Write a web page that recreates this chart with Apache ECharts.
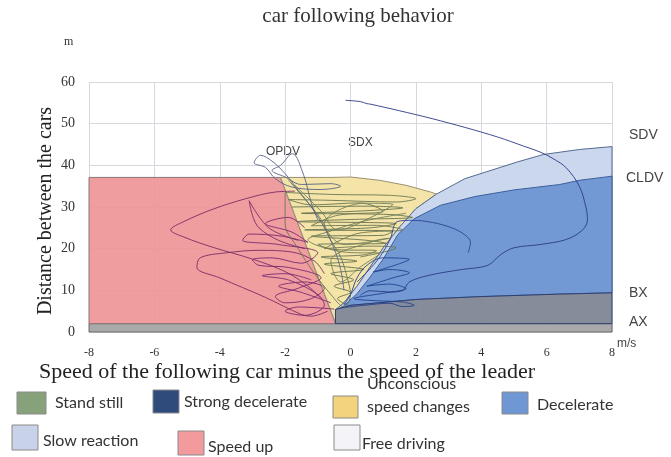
<!DOCTYPE html>
<html>
<head>
<meta charset="utf-8">
<script src="https://cdn.jsdelivr.net/npm/echarts@6/dist/echarts.min.js"></script>
<style>
  html, body { margin: 0; padding: 0; background: #fff; }
  #chart { width: 671px; height: 457px; }
</style>
</head>
<body>
<div id="chart"></div>
<script>
// axis ticks
const xTicks = [-8, -6, -4, -2, 0, 2, 4, 6, 8]
const yTicks = [0, 10, 20, 30, 40, 50, 60]

// zone boundaries (speed diff m/s, distance m)
const axBand = [[-8, 0], [8, 0], [8, 2], [-8, 2]]
const speedUpZone = [[-8, 2], [-0.46, 2], [-2.14, 37.1], [-8, 37.1]]
const yellowTop = [[-2.14, 37.1], [-0.6, 37.1], [0, 37.2], [0.9, 36.4], [1.7, 35.2], [2.45, 33.6], [2.63, 33.1]]
const sdvCurve = [[-0.46, 5.3], [-0.2, 7], [0.2, 11], [0.6, 15.6], [1.0, 20.2], [1.5, 25.2], [2.0, 29.6], [2.63, 33.1],
  [3.5, 36.8], [4.3, 38.8], [5.1, 40.8], [5.9, 42.6], [7, 43.8], [8, 44.5]]
const cldvCurve = [[-0.3, 5.6], [0.2, 9.2], [0.6, 13.2], [1.0, 17.5], [1.45, 23.4], [1.95, 27.2], [2.75, 30.4],
  [3.8, 32.5], [5, 34.1], [6.4, 35.4], [7, 36.4], [8, 37.4]]
const bxLine = [[-0.46, 5.4], [0, 6.4], [2, 7.8], [4, 8.5], [6.4, 9.1], [8, 9.4]]

// trajectories
const navyTrack = [[-0.15, 55.6], [0.3, 55.3], [0.5, 54.8], [0.6, 54.7], [1.5, 53.1], [2.5, 51.2], [3.5, 49.1],
  [4.5, 46.8], [5.3, 44.6], [5.8, 43.2], [6.2, 41.6], [6.6, 39.4], [7.0, 35], [7.2, 30], [7.25, 27], [7.1, 24.5],
  [6.6, 22.2], [5.8, 21], [5.0, 20.2], [4.6, 18.6], [4.2, 16], [3.4, 15], [2.4, 13.6], [1.8, 12], [1.6, 10],
  [1.2, 9.6], [0.6, 9.9], [0.3, 8.8]]
const blueLoopTrack = [[0.2, 12], [0.8, 17], [1.2, 22], [1.43, 26.5], [1.9, 26.8], [2.5, 26.3], [3.1, 25],
  [3.5, 23.3], [3.67, 21.5], [3.6, 19]]
const blueLowTrack = [[-0.3, 5.8], [0.4, 6.4], [1.2, 6.9], [1.6, 6.1], [1.95, 6.4], [1.6, 7.2], [0.8, 7.5],
  [0.1, 8], [1.0, 9.3], [1.7, 10.4], [1.2, 11.5], [0.5, 11], [1.3, 13], [1.8, 14.2], [1.2, 15], [0.7, 14.4],
  [1.5, 16.4], [1.8, 17.4], [1.0, 17.8], [0.5, 16], [0.2, 13], [0, 9], [-0.2, 6.5]]
const slateTrack = [[-1.0, 26.9], [-1.2, 31], [-1.43, 37.6], [-1.78, 42.8], [-2.14, 40], [-2.4, 38.8], [-2.0, 37.2],
  [-1.5, 35.4], [-0.6, 35.6], [-0.3, 35.0], [-0.9, 34.2], [-1.8, 34.8], [-2.3, 36.8], [-2.6, 39.5], [-2.95, 40.6],
  [-2.75, 42.4], [-2.4, 41], [-2.0, 38], [-1.6, 34], [-1.2, 30], [-0.8, 25], [-0.5, 20], [-0.3, 15], [-0.2, 10]]
const greenTrackA = [[-1.8, 30], [0.5, 30.2], [1.6, 29.8], [0.2, 29], [-1.5, 28.5], [1.2, 28.2], [1.9, 27.5],
  [0.0, 27], [-1.6, 26.5], [1.4, 26], [0.6, 25], [-1.4, 24.5], [1.3, 24.2], [1.0, 23.2], [-1.2, 23], [0.5, 22],
  [1.1, 21.3], [-1.0, 21], [-0.5, 19.8], [0.8, 19.5], [0.4, 18.5], [-0.9, 18], [0.2, 17], [-0.8, 16.3],
  [0.4, 15], [-0.6, 14], [0.1, 12.5], [-0.5, 11], [0.0, 9.5], [-0.4, 8], [-0.1, 6.5]]
const greenTrackB = [[-1.9, 36.5], [-1.3, 31], [-0.9, 27], [-0.6, 22], [-0.3, 18], [-0.1, 13], [0.0, 9], [-0.2, 6],
  [-0.6, 9], [-1.1, 14], [-1.6, 20], [-2.0, 26], [-2.0, 33.5], [-0.5, 33], [1.2, 32.8], [2.0, 32], [1.4, 31.2],
  [-0.6, 31.6], [-1.9, 31.8], [-1.2, 30.5], [0.3, 31], [1.0, 29], [-0.4, 28], [-1.2, 25.5], [0.8, 25.6],
  [1.6, 24.5], [0.2, 23.6], [-0.8, 20], [0.6, 20.6], [1.4, 20.2], [0.3, 18]]
const greenTrackC = [[-1.7, 35.2], [-0.9, 29], [-0.4, 24.5], [0.7, 27.8], [1.3, 30.6], [0.4, 30.9], [-0.8, 26],
  [-0.2, 21], [1.2, 22.5], [0.7, 21.8], [-0.6, 17], [-0.3, 12], [0.3, 15.6], [0.9, 18.8], [-0.2, 19.2],
  [-1.3, 22.2], [-0.7, 24], [0.4, 26.6], [1.7, 28.5]]
const purpleTrackA = [[-0.9, 8], [-1.3, 11], [-2.0, 14.5], [-3.0, 17.5], [-4.2, 20.3], [-5.1, 22.8], [-5.5, 24.5],
  [-5.1, 26.5], [-4.2, 29.5], [-3.2, 32], [-2.3, 33.6], [-1.7, 33.8]]
const purpleTrackB = [[-0.7, 5], [-1.2, 3.8], [-1.5, 4.2], [-2.6, 8.3], [-4.0, 13], [-4.7, 15.5], [-4.6, 17.8],
  [-3.8, 19], [-2.8, 19.6], [-1.8, 19.2], [-1.1, 17], [-0.8, 14]]
const purpleTrackC = [[-1.6, 22], [-2.5, 25], [-3.1, 31.5], [-3.0, 28], [-2.8, 25], [-2.2, 22], [-1.4, 20]]
const purpleTrackD = [[-0.6, 7], [-1.5, 9.5], [-2.2, 11], [-1.4, 12], [-0.8, 10.5], [-1.2, 8], [-2.0, 7],
  [-2.3, 8.5], [-1.6, 10.5], [-0.9, 13], [-1.9, 15.5], [-2.8, 16], [-3.0, 17.3], [-2.4, 17.8], [-1.5, 16.5],
  [-1.0, 19], [-2.2, 21], [-3.3, 22], [-3.1, 23.5], [-2.1, 23], [-1.3, 21.5], [-1.8, 24], [-2.6, 26],
  [-1.9, 27.5], [-1.4, 25]]
const purpleTrackE = [[-0.5, 5.5], [-1.6, 6], [-2.0, 5], [-1.4, 4], [-0.8, 6.5], [-1.0, 9], [-1.9, 12.5],
  [-2.7, 13.5], [-2.0, 14], [-1.2, 12.5]]

const rev = a => a.slice().reverse()
const upTo = (a, x) => a.filter(p => p[0] <= x)

const zones = [
  { pts: axBand, fill: '#a9a9ab', stroke: '#6e6a6a' },
  { pts: speedUpZone, fill: 'rgba(238,150,152,0.93)', stroke: '#8a7676' },
  { pts: yellowTop.concat(rev(upTo(sdvCurve, 2.63)), [[-0.46, 2.2]]), fill: 'rgba(243,226,160,0.93)', stroke: '#9a9070' },
  { pts: sdvCurve.concat(rev(bxLine)), fill: 'rgba(199,212,236,0.93)', stroke: '#556a90' },
  { pts: cldvCurve.concat(rev(bxLine).slice(0, -1)), fill: 'rgba(108,148,210,0.93)', stroke: '#3d5f9a' },
  { pts: [[-0.46, 2], [8, 2]].concat(rev(bxLine)), fill: 'rgba(128,134,148,0.95)', stroke: '#2e3f70' }
]

const tracks = [
  { data: purpleTrackA, color: '#7b2e64' },
  { data: purpleTrackB, color: '#7b2e64' },
  { data: purpleTrackC, color: '#7b2e64' },
  { data: purpleTrackD, color: '#7a2a70' },
  { data: purpleTrackE, color: '#7a2a70' },
  { data: greenTrackA, color: '#65714e' },
  { data: greenTrackB, color: '#6b7552' },
  { data: greenTrackC, color: '#72805a' },
  { data: slateTrack, color: '#5a6486' },
  { data: blueLowTrack, color: '#23408e' },
  { data: blueLoopTrack, color: '#2d4290' },
  { data: navyTrack, color: '#2e3a86' }
]

const legendItems = [
  { name: 'Stand still', color: '#87a27a', box: [17, 392, 29, 22], text: [55, 403] },
  { name: 'Strong decelerate', color: '#2f4b7c', box: [153, 390, 26, 23], text: [184, 402] },
  { name: 'Unconscious\nspeed changes', color: '#f2d47e', box: [333, 396, 25, 22], text: [367, 395] },
  { name: 'Decelerate', color: '#6f97d4', box: [502, 392, 26, 22], text: [537, 405] },
  { name: 'Slow reaction', color: '#c8d2e8', box: [12, 425, 26, 25], text: [43, 441] },
  { name: 'Speed up', color: '#f29a9c', box: [178, 431, 26, 24], text: [208, 447] },
  { name: 'Free driving', color: '#f4f4f8', box: [334, 425, 26, 25], text: [362, 444] }
]

const sideLabels = [
  { text: 'SDV', x: 629, y: 135 }, { text: 'CLDV', x: 626, y: 178 },
  { text: 'BX', x: 629, y: 293 }, { text: 'AX', x: 629, y: 322 }
]

const chart = echarts.init(document.getElementById('chart'))
const serif = '"Liberation Serif", "DejaVu Serif", serif'
const sans = 'Lato, "Liberation Sans", sans-serif'

const graphic = [
  { type: 'text', x: 358, y: 16, style: { text: 'car following behavior', font: '21px ' + serif, fill: '#333', align: 'center', verticalAlign: 'middle' } },
  { type: 'text', x: 64, y: 36, style: { text: 'm', font: '12px ' + serif, fill: '#333' } },
  { type: 'text', x: 46, y: 211, rotation: Math.PI / 2, style: { text: 'Distance between the cars', font: '20px ' + serif, fill: '#222', align: 'center', verticalAlign: 'middle' } },
  { type: 'text', x: 287, y: 372, style: { text: 'Speed of the following car minus the speed of the leader', font: '22px ' + serif, fill: '#222', align: 'center', verticalAlign: 'middle' } },
  { type: 'text', x: 617, y: 338, style: { text: 'm/s', font: '12px "Liberation Sans", sans-serif', fill: '#444' } },
  { type: 'text', x: 348, y: 137, style: { text: 'SDX', font: '12px "Liberation Sans", sans-serif', fill: '#444' } },
  { type: 'text', x: 266, y: 146, style: { text: 'OPDV', font: '12px "Liberation Sans", sans-serif', fill: '#444' } }
]
sideLabels.forEach(l => graphic.push({ type: 'text', x: l.x, y: l.y, style: { text: l.text, font: '14px "Liberation Sans Narrow", "Liberation Sans", sans-serif', fill: '#444', verticalAlign: 'middle' } }))
legendItems.forEach(it => {
  graphic.push({ type: 'rect', shape: { x: it.box[0], y: it.box[1], width: it.box[2], height: it.box[3] },
    style: { fill: it.color, stroke: '#8a8a8a', lineWidth: 1 } })
  graphic.push({ type: 'text', x: it.text[0], y: it.text[1], style: { text: it.name, font: '16px ' + sans, fill: '#333', verticalAlign: 'middle', lineHeight: 23 } })
})

const series = [{
  type: 'custom',
  silent: true,
  z: 1,
  data: zones.map(z => z.pts[0]),
  renderItem: (params, api) => {
    const z = zones[params.dataIndex]
    return {
      type: 'polygon',
      shape: { points: z.pts.map(p => api.coord(p)) },
      style: { fill: z.fill, stroke: z.stroke, lineWidth: 1 }
    }
  }
}]
tracks.forEach(t => series.push({
  type: 'line', data: t.data, smooth: 0.35, showSymbol: false, silent: true, z: 3,
  lineStyle: { color: t.color, width: 1, opacity: 0.9 }
}))

chart.setOption({
  animation: false,
  grid: { left: 89, right: 59, top: 82, bottom: 125 },
  xAxis: {
    type: 'value', min: -8, max: 8, interval: 2,
    axisLine: { show: false }, axisTick: { show: false },
    splitLine: { lineStyle: { color: '#d6d8de' } },
    axisLabel: { margin: 15, fontFamily: serif, fontSize: 12, color: '#333',
      formatter: v => xTicks.includes(v) ? String(v) : '' }
  },
  yAxis: {
    type: 'value', min: 0, max: 60, interval: 10,
    axisLine: { show: true, lineStyle: { color: '#d6d8de' } }, axisTick: { show: false },
    splitLine: { lineStyle: { color: '#d6d8de' } },
    axisLabel: { margin: 14, fontFamily: serif, fontSize: 14, color: '#333',
      formatter: v => yTicks.includes(v) ? String(v) : '' }
  },
  graphic: graphic,
  series: series
})
</script>
</body>
</html>
